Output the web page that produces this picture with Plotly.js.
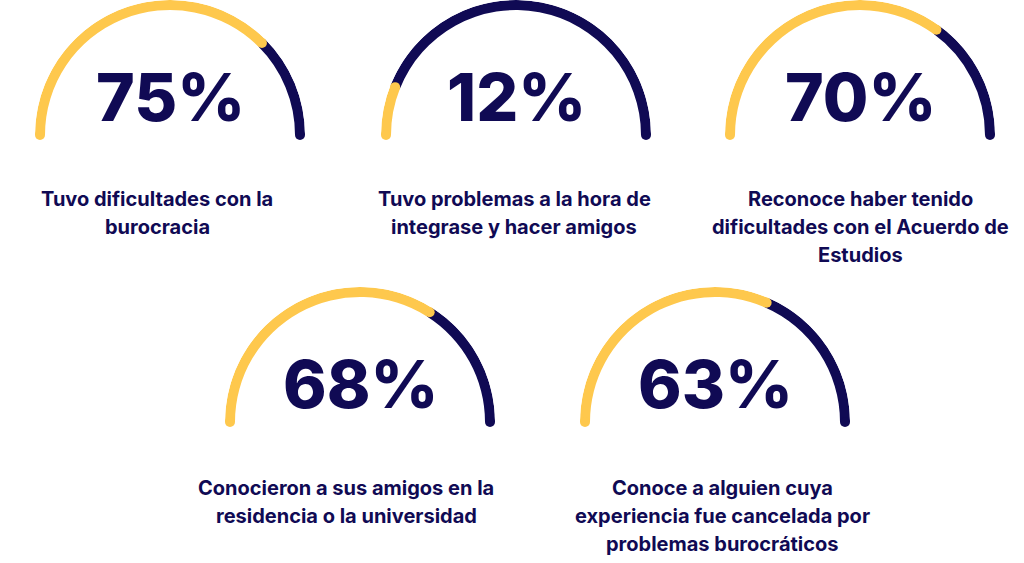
<!DOCTYPE html>
<html>
<head>
<meta charset="utf-8">
<script src="https://cdn.plot.ly/plotly-3.0.1.min.js"></script>
<style>
  html, body { margin: 0; padding: 0; background: #ffffff; }
  #chart { width: 1024px; height: 563px; }
</style>
</head>
<body>
<div id="chart"></div>
<script>
// ---- data ----
const values = [75, 12, 70, 68, 63];
const percentLabels = ["75%", "12%", "70%", "68%", "63%"];
const descriptions = [
  ["Tuvo dificultades con la", "burocracia"],
  ["Tuvo problemas a la hora de", "integrase y hacer amigos"],
  ["Reconoce haber tenido", "dificultades con el Acuerdo de", "Estudios"],
  ["Conocieron a sus amigos en la", "residencia o la universidad"],
  ["Conoce a alguien cuya", "experiencia fue cancelada por", "problemas burocráticos"]
];

// ---- layout constants (pixels) ----
const W = 1024, H = 563;
const centers = [[170, 135], [516, 135], [860, 135], [360, 422], [715, 422]];
const labelX = [157, 514, 860, 346, 722];
const labelFirstY = [199, 199, 199, 488, 488];
const lineGap = 28;
const R_OUT = 135, THICK = 10;
const YELLOW = "#FEC84D", NAVY = "#100A54";

const base = (R_OUT - THICK) / R_OUT;
const band = THICK / R_OUT;
const mid = (R_OUT - THICK / 2) / R_OUT;

const data = [];
const layout = {
  width: W, height: H,
  margin: {l: 0, r: 0, t: 0, b: 0},
  paper_bgcolor: "#ffffff",
  showlegend: false,
  annotations: []
};

const px = x => x / W;
const py = y => 1 - y / H;

values.forEach((v, i) => {
  const key = i === 0 ? "polar" : "polar" + (i + 1);
  const [cx, cy] = centers[i];
  const split = 180 - 1.8 * v;
  layout[key] = {
    domain: {x: [px(cx - R_OUT), px(cx + R_OUT)], y: [py(cy), py(cy - R_OUT)]},
    sector: [0, 180],
    bgcolor: "rgba(0,0,0,0)",
    radialaxis: {visible: false, range: [0, 1]},
    angularaxis: {visible: false, rotation: 0, direction: "counterclockwise"}
  };
  // remaining (navy) part
  data.push({
    type: "barpolar", subplot: key,
    r: [band], base: [base], theta: [split / 2], width: [split],
    marker: {color: NAVY, line: {width: 0}}, hoverinfo: "skip"
  });
  // value (yellow) part
  data.push({
    type: "barpolar", subplot: key,
    r: [band], base: [base], theta: [180 - 0.9 * v], width: [1.8 * v],
    marker: {color: YELLOW, line: {width: 0}}, hoverinfo: "skip"
  });
  // rounded caps
  data.push({
    type: "scatterpolar", subplot: key, mode: "markers", cliponaxis: false,
    r: [mid], theta: [0],
    marker: {color: NAVY, size: THICK, line: {width: 0}}, hoverinfo: "skip"
  });
  data.push({
    type: "scatterpolar", subplot: key, mode: "markers", cliponaxis: false,
    r: [mid, mid], theta: [180, split],
    marker: {color: YELLOW, size: THICK, line: {width: 0}}, hoverinfo: "skip"
  });

  layout.annotations.push({
    xref: "paper", yref: "paper", x: px(cx), y: py(cy - 38),
    xanchor: "center", yanchor: "middle", showarrow: false,
    text: percentLabels[i],
    font: {family: "Inter, 'DejaVu Sans', sans-serif", size: 66, weight: 800, color: NAVY}
  });
  descriptions[i].forEach((line, j) => {
    layout.annotations.push({
      xref: "paper", yref: "paper", x: px(labelX[i]), y: py(labelFirstY[i] + j * lineGap),
      xanchor: "center", yanchor: "middle", showarrow: false,
      text: line,
      font: {family: "Inter, 'Noto Sans', sans-serif", size: 20, weight: 700, color: NAVY}
    });
  });
});

Plotly.newPlot("chart", data, layout, {displayModeBar: false, staticPlot: true});
</script>
</body>
</html>
